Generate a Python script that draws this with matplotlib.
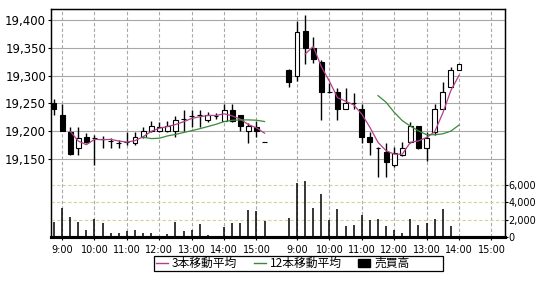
import numpy as np
import pandas as pd
import matplotlib
matplotlib.use('Agg')
import matplotlib.pyplot as plt
from matplotlib.lines import Line2D
from matplotlib.patches import Patch, Rectangle

# 15-minute bars, two sessions
day1_times = pd.date_range('2000-01-01 08:45', '2000-01-01 15:15', freq='15min')
day2_times = pd.date_range('2000-01-02 08:45', '2000-01-02 14:00', freq='15min')

day1_open = [19251, 19229, 19198, 19170, 19189, 19188, 19186, 19182, 19179, 19180, 19179, 19189, 19200, 19200,
             19200, 19200, 19222, 19227, 19229, 19220, 19227, 19218, 19238, 19229, 19200, 19207, 19180]
day1_high = [19258, 19249, 19207, 19207, 19197, 19193, 19191, 19188, 19184, 19198, 19199, 19207, 19218, 19216,
             19218, 19227, 19238, 19238, 19238, 19234, 19232, 19249, 19249, 19229, 19214, 19218, 19180]
day1_low = [19229, 19200, 19157, 19157, 19178, 19139, 19170, 19170, 19170, 19175, 19175, 19188, 19198, 19198,
            19198, 19189, 19200, 19207, 19207, 19216, 19222, 19218, 19216, 19200, 19178, 19189, 19180]
day1_close = [19240, 19200, 19159, 19188, 19180, 19188, 19186, 19182, 19179, 19180, 19190, 19200, 19209, 19207,
              19209, 19220, 19222, 19227, 19229, 19229, 19227, 19238, 19218, 19209, 19209, 19200, 19180]
day1_vol = [1770, 3320, 2350, 1770, 810, 2040, 1660, 500, 500, 690, 810, 500, 500, 150,
            350, 1770, 690, 810, 1500, 230, 120, 1190, 1580, 1580, 3120, 3040, 1850]

day2_open = [19310, 19299, 19380, 19350, 19325, 19271, 19270, 19240, 19251, 19240, 19190,
             19170, 19163, 19139, 19157, 19180, 19209, 19170, 19198, 19240, 19279, 19310]
day2_high = [19312, 19398, 19409, 19369, 19328, 19287, 19278, 19278, 19269, 19249, 19198,
             19171, 19179, 19171, 19180, 19216, 19210, 19198, 19249, 19288, 19315, 19321]
day2_low = [19279, 19290, 19321, 19322, 19220, 19269, 19220, 19240, 19240, 19179, 19157,
            19118, 19118, 19136, 19155, 19178, 19168, 19146, 19193, 19240, 19279, 19310]
day2_close = [19288, 19378, 19350, 19329, 19270, 19271, 19240, 19251, 19251, 19190, 19180,
              19170, 19145, 19161, 19170, 19209, 19169, 19188, 19240, 19270, 19310, 19321]
day2_vol = [2160, 6280, 6470, 3320, 4970, 1970, 3200, 1270, 1390, 2540, 1970,
            2040, 1270, 810, 500, 2040, 1390, 1580, 2040, 3200, 1270, 0]

price_ticks = [19150, 19200, 19250, 19300, 19350, 19400]
vol_ticks = [0, 2000, 4000, 6000]
hours = [9, 10, 11, 12, 13, 14, 15]
day_offsets = [0, 29]

ma3_color = '#b0408a'
ma12_color = '#3a8a3a'

fig = plt.figure(figsize=(5.5, 2.93), dpi=100)
ax = fig.add_axes([51 / 550, 1 - 237 / 293, (505 - 51) / 550, (237 - 9) / 293])
ax.set_xlim(-0.37, 55.68)
ax.set_ylim(19009.7, 19419.8)


def slot(times, offset):
    mins = times.hour * 60 + times.minute
    return (np.asarray(mins) - 525) / 15 + offset


days = [
    (day1_times, day1_open, day1_high, day1_low, day1_close, day1_vol),
    (day2_times, day2_open, day2_high, day2_low, day2_close, day2_vol),
]

ax2 = ax.twinx()
ax2.set_ylim(0, 26360)

for (times, o, h, l, c, v), off in zip(days, day_offsets):
    x = slot(times, off)
    o = np.array(o)
    c = np.array(c)
    ax.vlines(x, l, h, color='black', lw=1, zorder=2)
    up = c >= o
    ax.bar(x, np.abs(c - o), bottom=np.minimum(o, c), width=0.6,
           color=np.where(up, 'white', 'black'), edgecolor='black', lw=0.8, zorder=3)
    close = pd.Series(c, dtype=float)
    ax.plot(x, close.rolling(3).mean(), color=ma3_color, lw=0.9, zorder=4)
    ax.plot(x, close.rolling(12).mean(), color=ma12_color, lw=0.9, zorder=4)
    ax2.vlines(x, 0, v, color='black', lw=1.1)

# price axis
ax.set_yticks(price_ticks)
ax.set_yticklabels([f'{p:,}' for p in price_ticks])
ax.yaxis.grid(True, color='#a8a8a8', lw=0.8)
ax.tick_params(axis='y', length=2.5, pad=1, labelsize=8.5, direction='out')

# time axis
xt, xl = [], []
for off in day_offsets:
    for hr in hours:
        xt.append((hr * 60 - 525) / 15 + off)
        xl.append(f'{hr}:00')
ax.set_xticks(xt)
ax.set_xticklabels(xl)
ax.xaxis.grid(True, color='#a8a8a8', lw=0.8, ls=(0, (3, 2)))
ax.tick_params(axis='x', length=2, pad=3.5, labelsize=7)
ax.set_axisbelow(True)

# volume axis
ax2.set_yticks(vol_ticks)
ax2.set_yticklabels([f'{t:,}' for t in vol_ticks])
ax2.tick_params(axis='y', length=2, pad=0.5, labelsize=7)
for t in vol_ticks[1:]:
    ax2.axhline(t, color='#d8d09c', lw=0.8, ls=(0, (3, 2)), zorder=0)

for a in (ax, ax2):
    for s in a.spines.values():
        s.set_linewidth(0.9)
ax.spines['bottom'].set_linewidth(2.2)
ax2.spines['bottom'].set_linewidth(2.2)

# legend: box is wider than its contents, items sit at the left
fig.patches.append(Rectangle((154 / 550, 1 - 271 / 293), (443 - 154) / 550, 15 / 293,
                             transform=fig.transFigure, facecolor='white',
                             edgecolor='black', lw=0.9))
handles = [Line2D([], [], color=ma3_color, lw=1),
           Line2D([], [], color=ma12_color, lw=1),
           Patch(facecolor='black', edgecolor='black')]
labels = ['3本移動平均', '12本移動平均', '売買高']
fig.legend(handles, labels, loc='center left', bbox_to_anchor=(155 / 550, 1 - 263.5 / 293), ncol=3,
           frameon=False, prop={'family': ['Noto Sans CJK JP', 'DejaVu Sans'], 'size': 8.5},
           handlelength=1.0, handleheight=0.6, handletextpad=0.35, columnspacing=1.4,
           borderpad=0.1, borderaxespad=0)

fig.savefig('out.png', dpi=100)
